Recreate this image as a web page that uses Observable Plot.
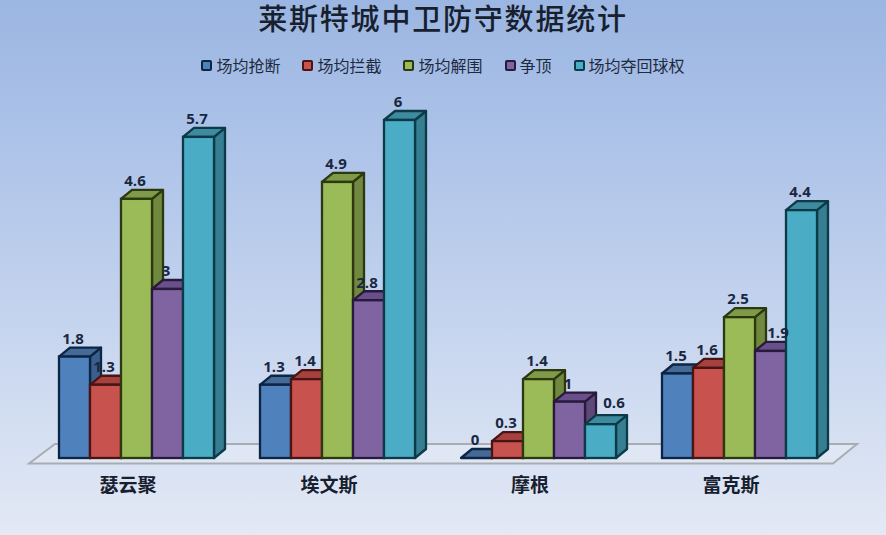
<!DOCTYPE html>
<html lang="zh">
<head>
<meta charset="utf-8">
<script src="https://cdn.jsdelivr.net/npm/d3@7"></script>
<script src="https://cdn.jsdelivr.net/npm/@observablehq/plot@0.6"></script>
<style>
  html, body { margin: 0; padding: 0; }
  body {
    width: 886px; height: 535px; overflow: hidden;
    background: linear-gradient(180deg, #9bb6e2 0%, #b3c7ea 35%, #d0dcf1 75%, #e3e9f5 100%);
    font-family: "Noto Sans CJK SC", sans-serif; color: #1d2a3f;
  }
  #head { height: 88px; position: relative; }
  #title { position: absolute; left: 0; right: 0; top: 0; text-align: center; font-family: "Liberation Sans", "Noto Sans CJK SC", sans-serif; font-size: 29px; letter-spacing: 1.8px; font-weight: 500; line-height: 41px; color: #17202e; }
  #legend { position: absolute; left: 0; right: 0; top: 54px; display: flex; justify-content: center; gap: 22px; font-size: 16px; line-height: 22px; }
  #legend span.item { display: flex; align-items: center; }
  #legend i { display: block; width: 7px; height: 7px; border: 2px solid #1a2a44; border-radius: 2px; margin-right: 4px; }
  svg { display: block; background: transparent; }
</style>
</head>
<body>
<div id="head"><div id="title"></div><div id="legend"></div></div>
<script>
const titleText = "莱斯特城中卫防守数据统计";
const categories = ["瑟云聚", "埃文斯", "摩根", "富克斯"];
const seriesNames = ["场均抢断", "场均拦截", "场均解围", "争顶", "场均夺回球权"];
const tackles = [1.8, 1.3, 0, 1.5];
const interceptions = [1.3, 1.4, 0.3, 1.6];
const clearances = [4.6, 4.9, 1.4, 2.5];
const aerials = [3, 2.8, 1, 1.9];
const recoveries = [5.7, 6, 0.6, 4.4];
const seriesValues = [tackles, interceptions, clearances, aerials, recoveries];

const frontColors = ["#4f81bd", "#c8524e", "#9bbb59", "#8064a2", "#4bacc6"];
const sideColors = ["#3a5f8c", "#943b39", "#71883f", "#5d4877", "#367e91"];
const topColors = ["#456a96", "#a54240", "#7f9a48", "#69508a", "#3e8a9e"];
const edgeColors = ["#0d2544", "#4a1412", "#2c380f", "#281a3d", "#0c3a47"];

const rows = categories.flatMap((category, c) =>
  seriesNames.map((series, s) => ({category, series, value: seriesValues[s][c]}))
);

const depthX = 11, depthY = 9;

// Extrudes each bar: the side and top faces go right behind its front rect.
function extrude(index, scales, values, dimensions, context, next) {
  const g = next(index, scales, values, dimensions, context);
  g.querySelectorAll("rect").forEach((r) => {
    const x = +r.getAttribute("x"), y = +r.getAttribute("y");
    const w = +r.getAttribute("width"), h = +r.getAttribute("height");
    const k = frontColors.indexOf(r.getAttribute("fill"));
    const face = (pts, fill) => {
      const p = document.createElementNS("http://www.w3.org/2000/svg", "polygon");
      p.setAttribute("points", pts.map((q) => q.join(",")).join(" "));
      p.setAttribute("fill", fill);
      p.setAttribute("stroke", edgeColors[k]);
      p.setAttribute("stroke-linejoin", "round");
      r.parentNode.insertBefore(p, r);
    };
    face([[x + w, y], [x + w + depthX, y - depthY], [x + w + depthX, y + h - depthY], [x + w, y + h]], sideColors[k]);
    face([[x, y], [x + depthX, y - depthY], [x + w + depthX, y - depthY], [x + w, y]], topColors[k]);
    r.setAttribute("stroke", edgeColors[k]);
  });
  return g;
}

// The floor plate under the bars, anchored on the baseline and the plot frame.
function floor(index, {y}, values, {width, marginLeft, marginRight}) {
  const y0 = y(0), l = marginLeft, rr = width - marginRight;
  const p = document.createElementNS("http://www.w3.org/2000/svg", "polygon");
  p.setAttribute("points", [[l - 30, y0 + 5.5], [l - 4, y0 - 14], [rr + 40, y0 - 14], [rr + 16, y0 + 5.5]].map((q) => q.join(",")).join(" "));
  p.setAttribute("fill", "#dfe6f4");
  p.setAttribute("stroke", "#a9adb3");
  p.setAttribute("stroke-width", 2);
  return p;
}

const shifted = new Set([0.6, 1.9]);
const labelStyle = {fx: "category", x: "series", y: "value", text: (d) => String(d.value),
  fill: "#1a2740", fontSize: 15, fontWeight: 700, fontFamily: "'Open Sans', sans-serif", stroke: "none"};

const chart = Plot.plot({
  width: 886,
  height: 447,
  marginTop: 32,
  marginBottom: 77,
  marginLeft: 59,
  marginRight: 69,
  style: {background: "transparent", fontFamily: "'Noto Sans CJK SC', sans-serif", overflow: "visible"},
  fx: {domain: categories, paddingInner: 0.229, paddingOuter: 0, axis: null},
  x: {domain: seriesNames, padding: 0, axis: null},
  y: {domain: [0, 6], axis: null},
  color: {domain: seriesNames, range: frontColors},
  marks: [
    Plot.frame({facet: "super", render: floor}),
    Plot.barY(rows, {fx: "category", x: "series", y: "value", fill: "series", strokeWidth: 2.3, render: extrude}),
    Plot.text(rows, {...labelStyle, filter: (d) => !shifted.has(d.value), dx: -2, dy: -18}),
    Plot.text(rows, {...labelStyle, filter: (d) => d.value === 0.6, dx: 13, dy: -22}),
    Plot.text(rows, {...labelStyle, filter: (d) => d.value === 1.9, dx: 7, dy: -18}),
    Plot.axisFx({anchor: "bottom", tickSize: 0, tickPadding: 20, dx: -9, fontSize: 19, fontWeight: 600, label: null, fill: "#17202e", lineHeight: 1})
  ]
});
document.body.appendChild(chart);

document.getElementById("title").textContent = titleText;
const legend = d3.select("#legend");
seriesNames.forEach((name, i) => {
  const it = legend.append("span").attr("class", "item");
  it.append("i").style("background", frontColors[i]).style("border-color", edgeColors[i]);
  it.append("span").text(name);
});
</script>
</body>
</html>
